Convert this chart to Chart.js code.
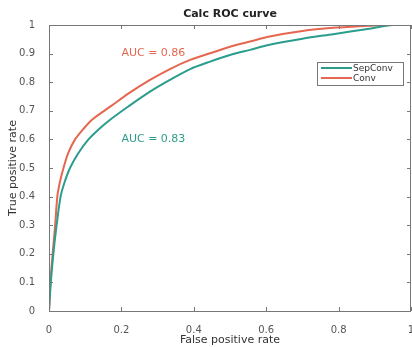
<!DOCTYPE html>
<html>
<head>
<meta charset="utf-8">
<script src="https://cdn.jsdelivr.net/npm/chart.js@4/dist/chart.umd.min.js"></script>
<style>
  html, body { margin: 0; padding: 0; background: #fff; }
  #wrap { width: 412px; height: 347px; position: relative; }
</style>
</head>
<body>
<div id="wrap"><canvas id="roc"></canvas></div>
<script>
// ROC points
const sepFpr = [0, 0.005, 0.012, 0.021, 0.032, 0.043, 0.058, 0.08, 0.109, 0.137, 0.168, 0.219, 0.279, 0.334, 0.39, 0.445, 0.5, 0.555, 0.606, 0.7, 0.785, 0.88, 0.95, 1];
const sepTpr = [0, 0.1, 0.2, 0.3, 0.4, 0.45, 0.5, 0.55, 0.6, 0.635, 0.668, 0.715, 0.767, 0.808, 0.846, 0.872, 0.895, 0.913, 0.93, 0.952, 0.968, 0.986, 1, 1];
const convFpr = [0, 0.004, 0.01, 0.017, 0.023, 0.03, 0.04, 0.053, 0.072, 0.094, 0.118, 0.173, 0.219, 0.279, 0.334, 0.39, 0.445, 0.5, 0.555, 0.606, 0.7, 0.785, 0.88, 0.93, 1];
const convTpr = [0, 0.1, 0.2, 0.3, 0.4, 0.45, 0.5, 0.552, 0.6, 0.635, 0.668, 0.718, 0.76, 0.808, 0.846, 0.878, 0.901, 0.924, 0.942, 0.959, 0.979, 0.99, 0.997, 1, 1];

const seriesNames = ['SepConv', 'Conv'];
const aucLabels = ['AUC = 0.83', 'AUC = 0.86'];
const aucPos = [[0.2, 0.6], [0.2, 0.9]];
const xTicks = [0, 0.2, 0.4, 0.6, 0.8, 1];
const yTicks = [0, 0.1, 0.2, 0.3, 0.4, 0.5, 0.6, 0.7, 0.8, 0.9, 1];

const teal = '#2b9d8c';
const orange = '#e5674f';
const FONT = 'DejaVu Sans';

function pts(xs, ys) {
  return xs.map((x, i) => ({ x: x, y: ys[i] }));
}

// frame, inward ticks, title, legend box, AUC text
const decor = {
  id: 'decor',
  afterDatasetsDraw(chart) {
    const ctx = chart.ctx;
    const a = chart.chartArea;
    const xs = chart.scales.x, ys = chart.scales.y;
    ctx.save();
    ctx.strokeStyle = '#777';
    ctx.lineWidth = 1;
    ctx.strokeRect(a.left + 0.5, a.top + 0.5, a.right - a.left - 1, a.bottom - a.top);
    ctx.beginPath();
    xTicks.forEach(v => {
      const px = Math.round(xs.getPixelForValue(v)) + 0.5;
      ctx.moveTo(px, a.bottom); ctx.lineTo(px, a.bottom - 4);
      ctx.moveTo(px, a.top); ctx.lineTo(px, a.top + 4);
    });
    yTicks.forEach(v => {
      const py = Math.round(ys.getPixelForValue(v)) + 0.5;
      ctx.moveTo(a.left, py); ctx.lineTo(a.left + 4, py);
      ctx.moveTo(a.right, py); ctx.lineTo(a.right - 4, py);
    });
    ctx.stroke();

    // title
    ctx.fillStyle = '#222';
    ctx.font = 'bold 11px "' + FONT + '"';
    ctx.textAlign = 'center';
    ctx.textBaseline = 'middle';
    ctx.fillText('Calc ROC curve', (a.left + a.right) / 2, 14);

    // AUC labels
    ctx.font = '11px "' + FONT + '"';
    ctx.textAlign = 'left';
    [teal, orange].forEach((c, i) => {
      ctx.fillStyle = c;
      ctx.fillText(aucLabels[i], xs.getPixelForValue(aucPos[i][0]), ys.getPixelForValue(aucPos[i][1]));
    });

    // legend box
    const lx = 317, ly = 62, lw = 86, lh = 23;
    ctx.fillStyle = '#fff';
    ctx.fillRect(lx, ly, lw, lh);
    ctx.strokeStyle = '#777';
    ctx.strokeRect(lx + 0.5, ly + 0.5, lw, lh);
    ctx.font = '9px "' + FONT + '"';
    ctx.lineWidth = 2;
    [teal, orange].forEach((c, i) => {
      const yy = ly + 6 + i * 10;
      ctx.strokeStyle = c;
      ctx.beginPath();
      ctx.moveTo(lx + 4, yy); ctx.lineTo(lx + 35, yy);
      ctx.stroke();
      ctx.fillStyle = '#333';
      ctx.fillText(chart.data.datasets[i].label, lx + 36, yy + 1);
    });
    ctx.restore();
  }
};

const tickFont = { family: FONT, size: 10 };

new Chart(document.getElementById('roc'), {
  type: 'scatter',
  data: {
    datasets: [
      { label: seriesNames[0], data: pts(sepFpr, sepTpr), borderColor: teal, borderWidth: 2, showLine: true, pointRadius: 0, tension: 0.3 },
      { label: seriesNames[1], data: pts(convFpr, convTpr), borderColor: orange, borderWidth: 2, showLine: true, pointRadius: 0, tension: 0.3 }
    ]
  },
  options: {
    responsive: true,
    maintainAspectRatio: false,
    animation: false,
    layout: { padding: { top: 25, right: 1, left: 0, bottom: 0 } },
    plugins: { legend: { display: false }, tooltip: { enabled: false } },
    scales: {
      x: {
        type: 'linear', min: 0, max: 1,
        grid: { display: false },
        border: { display: false },
        afterBuildTicks: s => { s.ticks = xTicks.map(v => ({ value: v })); },
        afterFit: s => { s.height = 36; s.paddingLeft = 0; s.paddingRight = 0; },
        ticks: { font: tickFont, color: '#555', padding: 5, maxRotation: 0, autoSkip: false, callback: v => String(v) },
        title: { display: true, text: 'False positive rate', font: { family: FONT, size: 11 }, color: '#333', padding: { top: 0, bottom: 0 } }
      },
      y: {
        type: 'linear', min: 0, max: 1,
        grid: { display: false },
        border: { display: false },
        afterBuildTicks: s => { s.ticks = yTicks.map(v => ({ value: v })); },
        afterFit: s => { s.width = 49; s.paddingTop = 0; s.paddingBottom = 0; },
        ticks: { font: tickFont, color: '#555', padding: 6, autoSkip: false, callback: v => String(v) },
        title: { display: true, text: 'True positive rate', font: { family: FONT, size: 11 }, color: '#333', padding: { top: 7, bottom: 0 } }
      }
    }
  },
  plugins: [decor]
});
</script>
</body>
</html>
